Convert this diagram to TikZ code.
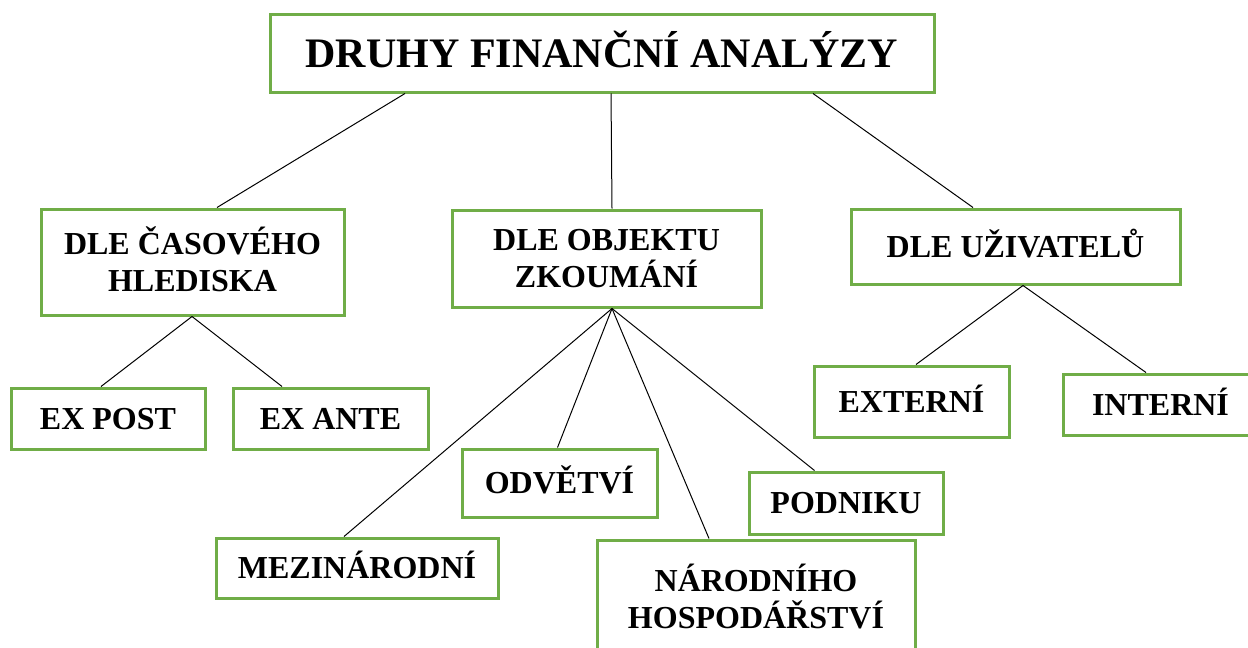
\documentclass[tikz,border=0pt]{standalone}
\usepackage{fontspec}
\setmainfont{Liberation Serif}
\definecolor{boxgreen}{HTML}{70AD47}
\tikzset{
  box/.style={draw=boxgreen, line width=3pt, fill=white, inner sep=0pt,
    font=\bfseries\fontsize{32}{37}\selectfont, align=center},
  one/.style={text height=21pt, text depth=0pt},
  two/.style={text height=58pt, text depth=0pt},
  conn/.style={draw=black, line width=1pt}
}
\begin{document}
\begin{tikzpicture}[x=1pt,y=-1pt]
\useasboundingbox (0,0) rectangle (1248,648);
\clip (0,0) rectangle (1248,648);
\node[box, font=\bfseries\fontsize{42}{48}\selectfont, text height=28pt, text depth=0pt,
  minimum width=664pt, minimum height=78pt] (title) at (602,53) {DRUHY FINANČNÍ ANALÝZY};
\node[box, two, minimum width=303pt, minimum height=106pt] (cas) at (192.5,262) {DLE ČASOVÉHO\\HLEDISKA};
\node[box, two, minimum width=309pt, minimum height=97pt] (obj) at (606.5,258.5) {DLE OBJEKTU\\ZKOUMÁNÍ};
\node[box, one, minimum width=329pt, minimum height=75pt] (uziv) at (1015.5,246.5) {DLE UŽIVATELŮ};
\node[box, one, minimum width=194pt, minimum height=61pt] (expost) at (108,418.5) {EX POST};
\node[box, one, minimum width=195pt, minimum height=61pt] (exante) at (330.5,418.5) {EX ANTE};
\node[box, one, minimum width=195pt, minimum height=71pt] (ext) at (911.5,401.5) {EXTERNÍ};
\node[box, one, minimum width=195pt, minimum height=61pt] (int) at (1160.5,404.5) {INTERNÍ};
\node[box, one, minimum width=195pt, minimum height=68pt] (odv) at (559.5,483) {ODVĚTVÍ};
\node[box, one, minimum width=194pt, minimum height=62pt] (podn) at (846,503) {PODNIKU};
\node[box, one, minimum width=282pt, minimum height=60pt] (mezi) at (357,568) {MEZINÁRODNÍ};
\node[box, two, minimum width=318pt, minimum height=119pt] (narod) at (756,599.5) {NÁRODNÍHO\\HOSPODÁŘSTVÍ};
\begin{scope}[on background layer/.try]
\end{scope}
\draw[conn] ([xshift=-197pt]title.south) -- ([xshift=24.5pt]cas.north);
\draw[conn] ([xshift=9pt]title.south) -- ([xshift=5.5pt]obj.north);
\draw[conn] ([xshift=211pt]title.south) -- ([xshift=-42.5pt]uziv.north);
\draw[conn] ([xshift=-0.5pt]cas.south) -- ([xshift=-7pt]expost.north);
\draw[conn] ([xshift=-0.5pt]cas.south) -- ([xshift=-48.5pt]exante.north);
\draw[conn] ([xshift=5.5pt]obj.south) -- ([xshift=-13pt]mezi.north);
\draw[conn] ([xshift=5.5pt]obj.south) -- ([xshift=-2pt]odv.north);
\draw[conn] ([xshift=5.5pt]obj.south) -- ([xshift=-47pt]narod.north);
\draw[conn] ([xshift=5.5pt]obj.south) -- ([xshift=-31.5pt]podn.north);
\draw[conn] ([xshift=7.5pt]uziv.south) -- ([xshift=4.5pt]ext.north);
\draw[conn] ([xshift=7.5pt]uziv.south) -- ([xshift=-14.5pt]int.north);
\end{tikzpicture}
\end{document}
